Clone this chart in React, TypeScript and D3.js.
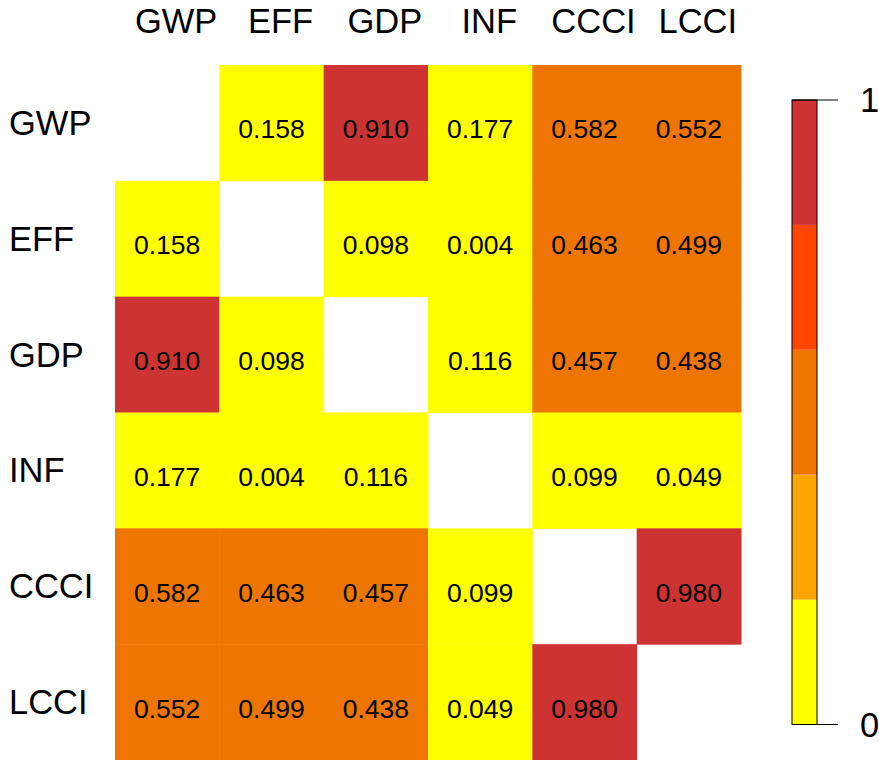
import React from "react";
import * as d3 from "d3";

const variables = ["GWP", "EFF", "GDP", "INF", "CCCI", "LCCI"];

// Upper-triangle correlations, row by row (the matrix is symmetric)
const rGWP = [0.158, 0.91, 0.177, 0.582, 0.552];
const rEFF = [0.098, 0.004, 0.463, 0.499];
const rGDP = [0.116, 0.457, 0.438];
const rINF = [0.099, 0.049];
const rCCCI = [0.98];

const binEdges = [0, 0.2, 0.4, 0.6, 0.8, 1];
const binColors = ["#FFFF00", "#FFA500", "#EE7600", "#FF4500", "#CD3333"];

const W = 879;
const H = 760;
const FONT = "Liberation Sans, Arial, Helvetica, sans-serif";

function buildMatrix(): (number | null)[][] {
  const upper = [rGWP, rEFF, rGDP, rINF, rCCCI];
  const n = variables.length;
  const m: (number | null)[][] = Array.from({ length: n }, () => Array(n).fill(null));
  upper.forEach((row, i) => {
    row.forEach((v, k) => {
      const j = i + 1 + k;
      m[i][j] = v;
      m[j][i] = v;
    });
  });
  return m;
}

export default function App() {
  const matrix = buildMatrix();

  const x = d3.scaleBand<string>().domain(variables).range([115, 741]).padding(0);
  const y = d3.scaleBand<string>().domain(variables).range([65, 760]).padding(0);

  const color = d3
    .scaleThreshold<number, string>()
    .domain(binEdges.slice(1, -1))
    .range(binColors);

  const barX = 792;
  const barW = 25;
  const barY = d3.scaleLinear().domain([0, 1]).range([724.5, 100]);

  const cells: React.ReactNode[] = [];
  matrix.forEach((row, i) => {
    row.forEach((v, j) => {
      if (v === null) return;
      const cx = x(variables[j])!;
      const cy = y(variables[i])!;
      cells.push(
        <g key={`${i}-${j}`}>
          <rect
            x={cx}
            y={cy}
            width={x.bandwidth() + 0.5}
            height={y.bandwidth() + 0.5}
            fill={color(v)}
          />
          <text
            x={cx + x.bandwidth() / 2}
            y={cy + y.bandwidth() / 2 + 15.5}
            textAnchor="middle"
            fontSize={26.5}
            fontFamily={FONT}
            fill="#000"
          >
            {v.toFixed(3)}
          </text>
        </g>
      );
    });
  });

  return (
    <svg
      width={W}
      height={H}
      style={{ position: "absolute", left: 0, top: 0, background: "#fff" }}
    >
      {cells}
      {variables.map((name) => (
        <text
          key={`col-${name}`}
          x={x(name)! + x.bandwidth() / 2 + 9}
          y={33}
          textAnchor="middle"
          fontSize={34.5}
          fontFamily={FONT}
          fill="#000"
        >
          {name}
        </text>
      ))}
      {variables.map((name) => (
        <text
          key={`row-${name}`}
          x={9}
          y={y(name)! + y.bandwidth() / 2 + 12}
          textAnchor="start"
          fontSize={34.5}
          fontFamily={FONT}
          fill="#000"
        >
          {name}
        </text>
      ))}
      {binColors.map((c, k) => (
        <rect
          key={`bin-${k}`}
          x={barX}
          y={barY(binEdges[k + 1])}
          width={barW}
          height={barY(binEdges[k]) - barY(binEdges[k + 1])}
          fill={c}
        />
      ))}
      <rect
        x={barX}
        y={barY(1)}
        width={barW}
        height={barY(0) - barY(1)}
        fill="none"
        stroke="#000"
        strokeWidth={1}
      />
      {[0, 1].map((t) => (
        <g key={`tick-${t}`}>
          <line x1={barX} x2={838} y1={barY(t)} y2={barY(t)} stroke="#000" strokeWidth={1} />
          <text
            x={860}
            y={barY(t) + 12}
            fontSize={34.5}
            fontFamily={FONT}
            fill="#000"
          >
            {t}
          </text>
        </g>
      ))}
    </svg>
  );
}
